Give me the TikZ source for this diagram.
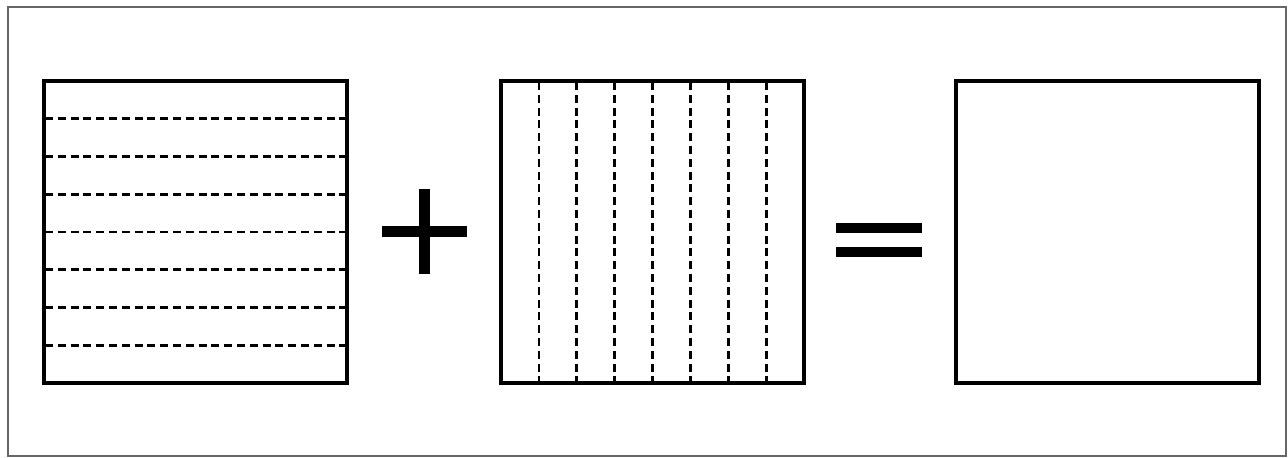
\documentclass[tikz,border=0pt]{standalone}
\tikzset{
    panel/.style={draw=black, line width=1.7pt},
    gridline/.style={line width=1.4pt, dash pattern=on 4pt off 2.4pt},
    bar/.style={fill=black}
}
\begin{document}
\begin{tikzpicture}[x=0.5pt, y=-0.5pt]
    \useasboundingbox (0,0) rectangle (1288,458);
    \draw[gray!80!black, line width=0.6pt] (8,7) rectangle (1286,456);
    % the three squares
    \foreach \x/\name in {44/rows, 501/cols, 956/sum}
        \draw[panel] (\x,81) rectangle (\x+303, 383);
    % horizontal dashed lines
    \foreach \k in {1,...,7}
        \draw[gridline] (45,81+\k*37.75) -- (347,81+\k*37.75);
    % vertical dashed lines
    \foreach \k in {1,...,7}
        \draw[gridline] (501+\k*37.9,82) -- (501+\k*37.9,382);
    % plus
    \fill[bar] (382,226) rectangle (467,237);
    \fill[bar] (419,189) rectangle (430,274);
    % equals
    \fill[bar] (836,223) rectangle (922,233);
    \fill[bar] (836,247) rectangle (922,257);
\end{tikzpicture}
\end{document}
